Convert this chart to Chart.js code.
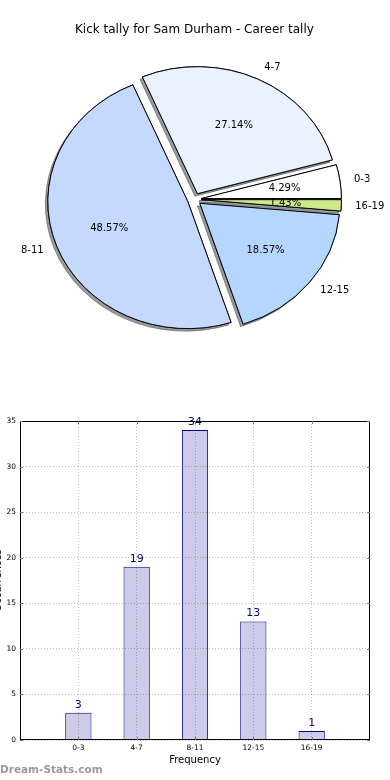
<!DOCTYPE html>
<html><head><meta charset="utf-8">
<script src="https://cdn.jsdelivr.net/npm/chart.js@4/dist/chart.umd.min.js"></script>
<style>
html,body{margin:0;padding:0;background:#fff;width:390px;height:780px;overflow:hidden;position:relative;font-family:'DejaVu Sans',sans-serif;}
#pie{position:absolute;left:0;top:0;}
#bar{position:absolute;left:0;top:400px;}
#wm{position:absolute;left:0;top:763px;font:bold 10.5px 'DejaVu Sans',sans-serif;color:#9a9a9a;white-space:nowrap;}
</style></head><body>
<canvas id="pie" width="390" height="400"></canvas>
<canvas id="bar" width="390" height="380"></canvas>
<div id="wm">Dream-Stats.com</div>
<script>
// ---- data ----
const titleText = 'Kick tally for Sam Durham - Career tally';
const categories = ['0-3', '4-7', '8-11', '12-15', '16-19'];
const tally = [3, 19, 34, 13, 1];
const yTicks = [0, 5, 10, 15, 20, 25, 30, 35];
const xTitle = 'Frequency';
const yTitle = 'Occurrences';
const pieColors = ['#ffffff', '#eaf1ff', '#c5d9ff', '#b5d7ff', '#cdea8a'];

// ---- styling constants ----
const FONT = "'DejaVu Sans', sans-serif";
const PIE_R = 140;          // horizontal radius in px
const PIE_SY = 127 / 140;   // vertical squash (axes not equal aspect)
const EXPLODE = 7;          // explode distance px
const total = tally.reduce((s, v) => s + v, 0);

// matplotlib draws counter-clockwise from east; Chart.js clockwise -> reverse order
const pieOrder = categories.map((c, i) => i).reverse();

const pieStyle = {
  id: 'pieStyle',
  beforeDatasetsDraw(chart) {
    const ctx = chart.ctx;
    const arcs = chart.getDatasetMeta(0).data;
    if (!arcs.length) return;
    const cx = arcs[0].x, cy = arcs[0].y;
    const pass = (shadow) => {
      arcs.forEach(a => {
        const mid = (a.startAngle + a.endAngle) / 2;
        ctx.save();
        ctx.translate(cx, cy); ctx.scale(1, PIE_SY); ctx.translate(-cx, -cy);
        ctx.translate(Math.cos(mid) * EXPLODE, Math.sin(mid) * EXPLODE);
        if (shadow) {
          ctx.shadowColor = 'rgba(70,72,80,0.55)';
          ctx.shadowOffsetX = -2.5; ctx.shadowOffsetY = 2.5; ctx.shadowBlur = 0;
        }
        a.draw(ctx);
        ctx.restore();
      });
    };
    pass(true); pass(false);
    return false;
  },
  afterDraw(chart) {
    const ctx = chart.ctx;
    const arcs = chart.getDatasetMeta(0).data;
    ctx.save();
    ctx.font = '10px ' + FONT;
    ctx.fillStyle = '#000';
    ctx.textBaseline = 'middle';
    arcs.forEach((a, k) => {
      const i = pieOrder[k];
      const mid = (a.startAngle + a.endAngle) / 2;
      const c = Math.cos(mid), s = Math.sin(mid);
      const r = a.outerRadius;
      const ex = a.x + c * EXPLODE, ey = a.y + s * EXPLODE * PIE_SY;
      ctx.textAlign = c >= 0 ? 'left' : 'right';
      ctx.fillText(categories[i], ex + 1.1 * r * c, ey + 1.1 * r * s * PIE_SY);
      ctx.textAlign = 'center';
      ctx.fillText((tally[i] / total * 100).toFixed(2) + '%', ex + 0.6 * r * c, ey + 0.6 * r * s * PIE_SY);
    });
    ctx.restore();
  }
};

new Chart(document.getElementById('pie'), {
  type: 'pie',
  data: {
    labels: pieOrder.map(i => categories[i]),
    datasets: [{
      data: pieOrder.map(i => tally[i]),
      backgroundColor: pieOrder.map(i => pieColors[i]),
      borderColor: '#000', borderWidth: 1, clip: false
    }]
  },
  options: {
    responsive: false, animation: false, devicePixelRatio: 1, events: [],
    rotation: 90, radius: PIE_R,
    layout: { padding: { left: 0, right: 1.2, top: 0, bottom: 38.6 } },
    plugins: {
      legend: { display: false }, tooltip: { enabled: false },
      title: { display: true, text: titleText, color: '#000',
        font: { family: FONT, size: 12, weight: 'normal' }, padding: { top: 23, bottom: 0 } }
    }
  },
  plugins: [pieStyle]
});

const barExtras = {
  id: 'barExtras',
  afterDatasetsDraw(chart) {
    const ctx = chart.ctx;
    const bars = chart.getDatasetMeta(0).data;
    ctx.save();
    ctx.font = '11px ' + FONT;
    ctx.fillStyle = '#000080';
    ctx.textAlign = 'center';
    ctx.textBaseline = 'middle';
    bars.forEach((b, i) => ctx.fillText(String(tally[i]), b.x, b.y - 8));
    ctx.restore();
  },
  afterDraw(chart) {
    const ctx = chart.ctx, a = chart.chartArea;
    const xs = chart.scales.x, ys = chart.scales.y;
    ctx.save();
    ctx.strokeStyle = '#000'; ctx.lineWidth = 1;
    ctx.strokeRect(Math.round(a.left) + 0.5, Math.round(a.top) + 0.5, Math.round(a.right - a.left) - 1, Math.round(a.bottom - a.top) - 1);
    ctx.strokeStyle = '#777';
    ctx.beginPath();
    categories.forEach((c, i) => {
      const x = Math.round(xs.getPixelForValue(i)) + 0.5;
      ctx.moveTo(x, a.top); ctx.lineTo(x, a.top + 3);
      ctx.moveTo(x, a.bottom); ctx.lineTo(x, a.bottom - 3);
    });
    yTicks.forEach(v => {
      const y = Math.round(ys.getPixelForValue(v)) + 0.5;
      ctx.moveTo(a.left, y); ctx.lineTo(a.left + 3, y);
      ctx.moveTo(a.right, y); ctx.lineTo(a.right - 3, y);
    });
    ctx.stroke();
    ctx.restore();
  }
};

const gridOpts = { color: 'rgba(0,0,0,0.25)', drawTicks: false, z: 1, offset: false };
const borderOpts = { display: false, color: '#000', width: 1, dash: [1, 2] };

new Chart(document.getElementById('bar'), {
  type: 'bar',
  data: {
    datasets: [{
      data: categories.map((c, i) => ({ x: i, y: tally[i] })),
      backgroundColor: '#ccccea', borderColor: '#000080', borderWidth: 1,
      barPercentage: 0.45, categoryPercentage: 1
    }]
  },
  options: {
    responsive: false, animation: false, devicePixelRatio: 1, events: [],
    layout: { padding: { left: 0, right: 20, top: 21, bottom: 0 } },
    plugins: { legend: { display: false }, tooltip: { enabled: false } },
    scales: {
      x: {
        type: 'linear', min: -1, max: 5, offset: false,
        afterFit: s => { s.height = 40; },
        afterBuildTicks: s => { s.ticks = categories.map((c, i) => ({ value: i })); },
        ticks: { autoSkip: false, maxRotation: 0, padding: 4, color: '#000',
          font: { family: FONT, size: 7.5 }, callback: v => categories[v] ?? '' },
        grid: gridOpts, border: borderOpts,
        title: { display: true, text: xTitle, color: '#000', font: { family: FONT, size: 10 },
          padding: { top: 0, bottom: 14 } }
      },
      y: {
        min: 0, max: 35,
        afterFit: s => { s.width = 20; },
        afterBuildTicks: s => { s.ticks = yTicks.map(v => ({ value: v })); },
        ticks: { padding: 4, color: '#000', font: { family: FONT, size: 7.5 } },
        grid: gridOpts, border: borderOpts,
        title: { display: true, text: yTitle, color: '#000', font: { family: FONT, size: 10 },
          padding: { top: -8, bottom: 0 } }
      }
    }
  },
  plugins: [barExtras]
});
</script>
</body></html>
